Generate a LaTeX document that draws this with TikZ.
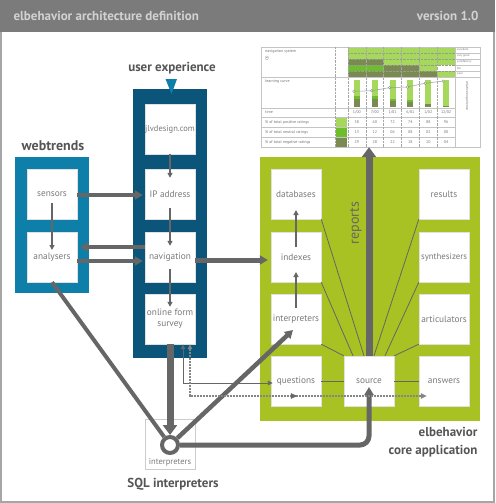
\documentclass[tikz,border=0pt]{standalone}
\usepackage{fontspec}
\setmainfont{PT Sans}
\usetikzlibrary{arrows.meta,decorations.markings,calc}
\definecolor{hdr}{HTML}{7B7B7B}
\definecolor{hdrtxt}{HTML}{D2D2D2}
\definecolor{wtblue}{HTML}{0D7FA8}
\definecolor{uxblue}{HTML}{0A5579}
\definecolor{coregreen}{HTML}{A8C123}
\definecolor{ln}{HTML}{666666}
\definecolor{txt}{HTML}{7A7A7A}
\definecolor{lbl}{HTML}{555555}
\definecolor{lg}{HTML}{A6D95B}
\definecolor{mg}{HTML}{6EBE2C}
\definecolor{dg}{HTML}{7B8A52}
\definecolor{grid}{HTML}{C4C4C4}
\begin{document}
\begin{tikzpicture}[x=1pt,y=-1pt,
  box/.style={draw=black!12, fill=white, minimum width=50pt, minimum height=50pt, inner sep=0pt,
    font=\fontsize{9.3}{10.8}\selectfont, text=txt, align=center},
  cont/.style={inner sep=0pt, draw=none},
  title/.style={font=\fontsize{13}{16}\selectfont\bfseries, text=lbl},
  thk/.style={draw=ln, line width=4pt, -{Triangle[length=8pt,width=9pt]}},
  fat/.style={draw=ln, line width=7pt, -{Triangle[length=10pt,width=14pt]}},
  thn/.style={draw=ln, line width=2pt, -{Triangle[length=5pt,width=5pt]}},
  hair/.style={draw=ln, line width=0.8pt},
  fine/.style={draw=ln, line width=0.9pt, {Triangle[length=5pt,width=4.5pt]}-{Triangle[length=5pt,width=4.5pt]}},
  tiny/.style={font=\fontsize{4}{4.5}\selectfont, text=black!55, inner sep=0pt},
]
\useasboundingbox (0,0) rectangle (495,503);
% header and frame
\fill[hdr] (0,0) rectangle (495,32);
\node[anchor=west, font=\fontsize{13}{15}\selectfont\bfseries, text=hdrtxt] (htitle) at (10,16) {elbehavior architecture definition};
\node[anchor=east, font=\fontsize{13}{15}\selectfont\bfseries, text=hdrtxt] (hver) at (482,16) {version 1.0};
\draw[black!35, line width=2pt] (1,32) -- (1,502) -- (494,502) -- (494,32);

% containers
\node[cont, fill=wtblue, minimum width=74pt, minimum height=136pt] (wt) at (52,225) {};
\node[cont, fill=uxblue, minimum width=74pt, minimum height=269pt] (ux) at (170,223.5) {};
\node[cont, fill=coregreen, minimum width=220pt, minimum height=264pt] (core) at (370,289) {};

% labels
\node[title, font=\fontsize{14}{16}\selectfont\bfseries] (lwt) at (53,146) {webtrends};
\node[title] (lux) at (172,68) {user experience};
\fill[wtblue] (165.5,79) -- (177,79) -- (171.5,94) -- cycle;
\node[title, anchor=north east, align=right, font=\fontsize{13}{17.5}\selectfont\bfseries] (lcore) at (481,424) {elbehavior\\core application};
\node[title] (lsql) at (173,484) {SQL interpreters};

% boxes
\node[box] (sensors) at (52,194) {sensors};
\node[box] (analysers) at (52,257) {analysers};
\node[box, font=\fontsize{8.5}{10}\selectfont] (jlv) at (170,129) {jlvdesign.com};
\node[box] (ip) at (170,194) {IP address};
\node[box] (nav) at (170,257) {navigation};
\node[box] (ofs) at (170,319) {online form\\survey};
\node[box] (databases) at (296,194) {databases};
\node[box] (indexes) at (296,257) {indexes};
\node[box] (interp) at (296,319) {interpreters};
\node[box] (questions) at (296,381) {questions};
\node[box] (source) at (369,381) {source};
\node[box] (answers) at (444,381) {answers};
\node[box] (results) at (444,194) {results};
\node[box, font=\fontsize{8.8}{10}\selectfont] (synth) at (444,257) {synthesizers};
\node[box] (artic) at (444,319) {articulators};
\node[draw=black!20, minimum width=50pt, minimum height=50pt, inner sep=0pt] (sqlbox) at (170,444) {};
\node[font=\fontsize{8.5}{10}\selectfont, text=txt] (sqltxt) at (170,462) {interpreters};

% chart
\node[inner sep=0pt, minimum width=219pt, minimum height=100pt] (chart) at (370.5,97) {};
\fill[white] (261,47) rectangle (480,147);
% nav system bands
\def\cw{17.833}
\foreach \i in {0,...,5}{
  \fill[lg] (348+\i*\cw,47) rectangle (348+\i*\cw+\cw,59);
}
\fill[dg] (348,59) rectangle (383.67,65);
\fill[lg] (383.67,59) rectangle (455,65);
\fill[mg] (348,65) rectangle (383.67,71);
\fill[dg] (383.67,65) rectangle (419.33,71);
\fill[lg] (419.33,65) rectangle (437.17,71);
\fill[dg] (348,71) rectangle (437.17,77);
\fill[lg] (437.17,71) rectangle (455,77);
\foreach \yy in {53,59,65,71}{
  \draw[black!40, line width=0.4pt, densely dotted] (348,\yy) -- (480,\yy);
}
% bars
\foreach \i/\p/\n/\g in {0/58/13/29,1/60/12/28,2/72/6/22,3/74/8/18,4/88/2/10,5/96/0/4}{
  \pgfmathsetmacro{\cx}{348+(\i+0.5)*\cw}
  \fill[lg] (\cx-3,80) rectangle (\cx+3,107);
  \fill[mg] (\cx-3,107-0.27*\g-0.27*\n) rectangle (\cx+3,107-0.27*\g);
  \fill[dg] (\cx-3,107-0.27*\g) rectangle (\cx+3,107);
}
\draw[black!40, line width=0.5pt] (353.92,91.3) -- (371.75,90.8) -- (389.58,87.6) -- (407.42,87) -- (425.25,83.2) -- (443.08,81.1);
\foreach \x/\y in {353.92/91.3,371.75/90.8,389.58/87.6,407.42/87,425.25/83.2,443.08/81.1}{
  \filldraw[fill=white, draw=black!45, line width=0.4pt] (\x,\y) circle (1.3);
}
% swatches
\fill[lg] (336,118) rectangle (347,127);
\fill[mg] (336,128) rectangle (347,137);
\fill[dg] (336,138) rectangle (347,147);
% grid
\draw[grid, line width=0.5pt] (261,47) rectangle (480,147);
\foreach \yy in {77,108,117,127,137}{
  \draw[grid, line width=0.5pt] (261,\yy) -- (455,\yy);
}
\draw[grid, line width=0.5pt] (455,77) -- (480,77);
\foreach \yy in {53,59,65,71}{
  \draw[grid, line width=0.4pt] (455,\yy) -- (480,\yy);
}
\draw[grid, line width=0.5pt] (455,47) -- (455,147);
\draw[black!35, line width=0.4pt, densely dotted] (335,47) -- (335,147);
\draw[black!35, line width=0.4pt, densely dotted] (348,47) -- (348,147);
\foreach \i in {1,...,5}{
  \draw[black!35, line width=0.4pt, densely dotted] (348+\i*\cw,47) -- (348+\i*\cw,147);
}
% chart texts
\node[tiny, anchor=west] (c1) at (265,52) {navigation system};
\node[tiny, anchor=west, rotate=90] (c1b) at (267,61) {OS};
\node[tiny, anchor=west] (c2) at (265,82) {learning curve};
\node[tiny, anchor=west] (c3) at (265,112.5) {time};
\node[tiny, anchor=west] (c4) at (265,122) {\% of total positive ratings};
\node[tiny, anchor=west] (c5) at (265,132) {\% of total neutral ratings};
\node[tiny, anchor=west] (c6) at (265,142) {\% of total negative ratings};
\foreach \lab/\yy in {excellent/50,very good/56,satisfactory/62,fair/68,poor/74}{
  \node[tiny, anchor=west, font=\fontsize{2.9}{3}\selectfont] at (457,\yy) {\lab};
}
\node[tiny, rotate=-90, font=\fontsize{3.6}{4}\selectfont] (c7) at (467,96) {relative experience};
\foreach \i/\t/\a/\b/\c in {0/1\slash 00/58/13/29,1/7\slash 00/60/12/28,2/1\slash 01/72/06/22,3/6\slash 01/74/08/18,4/1\slash 02/88/02/10,5/12\slash 02/96/00/04}{
  \pgfmathsetmacro{\cx}{348+(\i+0.5)*\cw}
  \node[tiny] at (\cx,112.5) {\t};
  \node[tiny] at (\cx,122) {\a};
  \node[tiny] at (\cx,132) {\b};
  \node[tiny] at (\cx,142) {\c};
}

% fan lines from source
\draw[hair] (databases.south east) -- ($(source.north)+(-5,0)$);
\draw[hair] (indexes.south east) -- ($(source.north)+(-16,0)$);
\draw[hair] (interp.south east) -- (source.north west);
\draw[hair] (results.south west) -- ($(source.north)+(5,0)$);
\draw[hair] (synth.south west) -- ($(source.north)+(16,0)$);
\draw[hair] (artic.south west) -- (source.north east);
\draw[hair] (questions.east) -- (source.west);
\draw[hair] (source.east) -- (answers.west);

% reports
\draw[fat] (source.north) -- (source.north |- chart.south);
\node[rotate=90, font=\fontsize{14}{16}\selectfont, text=ln] (rep) at (356,223) {reports};

% arrows inside containers
\draw[thn, shorten >=-9pt] (jlv.south) -- (ip.north);
\draw[thn, shorten <=-11pt, shorten >=-14pt] (ip.south) -- (nav.north);
\draw[thn, shorten <=-13pt, shorten >=-13pt] (nav.south) -- (ofs.north);
\draw[thn, shorten <=9pt, shorten >=7pt] (sensors.center) -- (analysers.center);
\draw[thn, shorten <=10pt, shorten >=16pt] (indexes.center) -- (databases.center);
\draw[thn, shorten <=11pt, shorten >=15pt] (interp.center) -- (indexes.center);

% horizontal arrows
\draw[thk, shorten >=2pt] ([yshift=-1pt]sensors.east) -- ([yshift=-1pt]ip.west);
\draw[thk, shorten >=3pt] ([yshift=10pt]nav.west) -- ([yshift=10pt]analysers.east);
\draw[thk, shorten >=2pt] ([yshift=-4pt]analysers.east) -- ([yshift=-4pt]nav.west);
\draw[thk, line width=5pt, shorten >=3pt] ([yshift=-3pt]nav.east) -- ([yshift=-3pt]indexes.west);

% hub
\node[circle, draw=ln, line width=4pt, fill=white, minimum size=16pt, inner sep=0pt] (hub) at (170,445) {};
\draw[draw=ln, line width=4pt] (analysers.south) -- (hub);
\draw[fat] (ofs.south) -- (hub.north);
\draw[thk, line width=4.5pt] (hub) -- ($(interp.center)+(-3,11)$);
\draw[thk, line width=5pt, rounded corners=9pt] (hub.east) -| ($(source.center)+(0,6)$);

% survey feedback lines
\draw[fine, shorten >=-2pt] ($(ofs.south)+(13,0)$) |- ($(questions.west)+(0,2)$);
\draw[draw=ln!80, line width=1.3pt, dash pattern=on 1pt off 0.5pt,
  {Triangle[length=5pt,width=4.5pt]}-{Triangle[length=6pt,width=5.5pt]},
  postaction={decorate},
  decoration={markings, mark=at position 0.55 with {\arrow[ln, line width=0.5pt]{Triangle[length=6pt,width=5.5pt]}}}]
  ($(ofs.south)+(20,0)$) |- ($(answers.west)+(8,15)$);
\end{tikzpicture}
\end{document}
